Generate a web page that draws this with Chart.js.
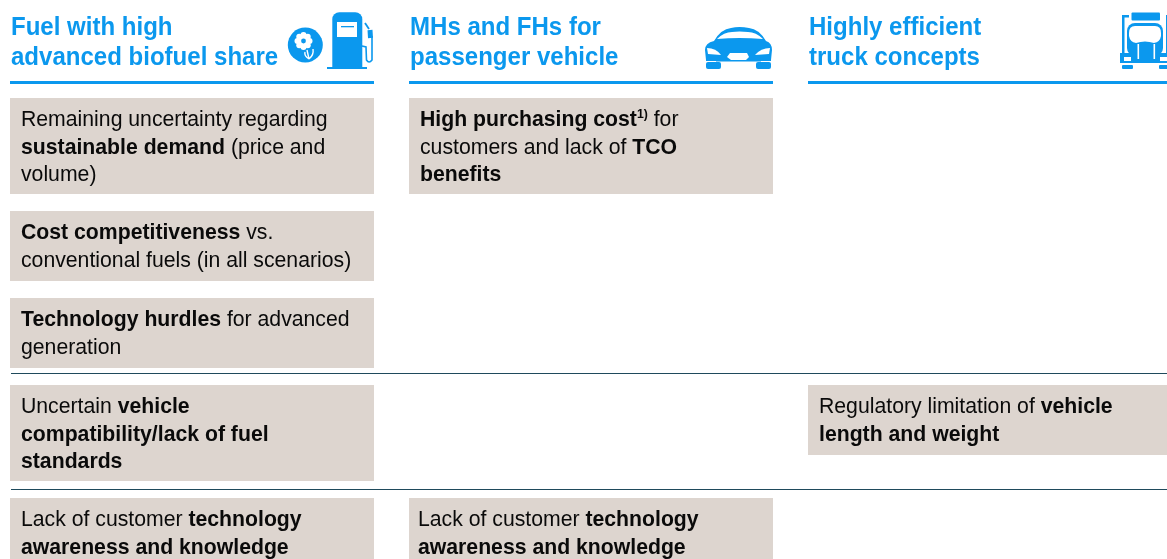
<!DOCTYPE html>
<html><head><meta charset="utf-8">
<style>html,body{margin:0;padding:0;background:#fff;overflow:hidden;width:1167px;height:559px}
canvas{position:absolute;left:-8px;top:0}</style>
<script src="https://cdn.jsdelivr.net/npm/chart.js@4"></script></head>
<body><canvas id="c" width="1198" height="559"></canvas>
<script>
const categories=[["Fuel with high","advanced biofuel share"],["MHs and FHs for","passenger vehicle"],["Highly efficient","truck concepts"]];
const headerRule=[[81,84],[81,84],[81,84]];
const row1=[[98,194],[98,194],null];
const row2=[[211,281],null,null];
const row3=[[298,368],null,null];
const row4=[[385,481],null,[385,455]];
const row5=[[498,559],[498,559],null];
const separators=[373,489];
const R="r",B="b",S="s";
const awareness=[[[R,"Lack of customer "],[B,"technology"]],[[B,"awareness and knowledge"]]];
const notes=[
 {col:0,top:98,lines:[[[R,"Remaining uncertainty regarding"]],[[B,"sustainable demand"],[R," (price and"]],[[R,"volume)"]]]},
 {col:0,top:211,lines:[[[B,"Cost competitiveness"],[R," vs."]],[[R,"conventional fuels (in all scenarios)"]]]},
 {col:0,top:298,lines:[[[B,"Technology hurdles"],[R," for advanced"]],[[R,"generation"]]]},
 {col:0,top:385,lines:[[[R,"Uncertain "],[B,"vehicle"]],[[B,"compatibility/lack of fuel"]],[[B,"standards"]]]},
 {col:0,top:498,lines:awareness},
 {col:1,top:98,lines:[[[B,"High purchasing cost"],[S,"1)"],[R," for"]],[[R,"customers and lack of "],[B,"TCO"]],[[B,"benefits"]]]},
 {col:1,top:498,dx:-2,lines:awareness},
 {col:2,top:385,lines:[[[R,"Regulatory limitation of "],[B,"vehicle"]],[[B,"length and weight"]]]}
];
const BLUE="#0b98ee",BOX="#ddd5cf",INK="#0a0a0a",RULE="#1f4a5c";
const FONT='"Liberation Sans"';
const SX=0.943, TX=0.907;

function rr(c,x,y,w,h,r){c.beginPath();c.roundRect(x,y,w,h,r);c.fill();}
function pump(c){
 c.fillStyle=BLUE;
 rr(c,332.3,12.3,30,56,[7,7,0,0]);
 c.fillRect(327,67,40,2);
 c.fillStyle="#fff";c.fillRect(337,22,20,15);
 c.fillStyle=BLUE;c.fillRect(341,26,13,1.3);
 c.strokeStyle=BLUE;c.lineWidth=1.6;c.beginPath();
 c.moveTo(362,46);c.lineTo(366,47);c.lineTo(366.5,60);c.quadraticCurveTo(369,64,372,60);c.lineTo(372,36);c.stroke();
 c.lineWidth=1.8;c.beginPath();c.moveTo(365,23);c.lineTo(369,29);c.stroke();
 c.lineWidth=5;c.beginPath();c.moveTo(370,30);c.lineTo(370.5,38);c.stroke();
 c.beginPath();c.arc(305.3,45,17.5,0,Math.PI*2);c.fill();
 c.fillStyle="#fff";
 for(let i=0;i<8;i++){const a=i*Math.PI/4;c.beginPath();c.arc(303.5+Math.cos(a)*6,41+Math.sin(a)*6,3,0,Math.PI*2);c.fill();}
 c.beginPath();c.arc(303.5,41,5,0,Math.PI*2);c.fill();
 c.fillStyle=BLUE;c.beginPath();c.arc(303.5,41,2.4,0,Math.PI*2);c.fill();
 c.strokeStyle="#fff";c.lineWidth=1.4;c.beginPath();c.moveTo(307,50);c.lineTo(309,59);c.moveTo(309,59);c.quadraticCurveTo(304,56,305,52);c.moveTo(309,59);c.quadraticCurveTo(314,55,313,49);c.stroke();
}
function car(c){
 c.fillStyle=BLUE;
 c.beginPath();c.moveTo(705,50);c.quadraticCurveTo(705,43,714,41);c.quadraticCurveTo(721,29,731,28);
 c.quadraticCurveTo(739,26,749,28);c.quadraticCurveTo(759,29,766,41);c.quadraticCurveTo(772,43,772,50);
 c.lineTo(771,60);c.lineTo(706,60);c.closePath();c.fill();
 rr(c,706,62,15,7,2);rr(c,756,62,15,7,2);
 c.fillRect(706,58,10,3);c.fillRect(761,58,10,3);
 c.fillRect(716,60,45,1.5);
 c.fillStyle="#fff";
 c.beginPath();c.moveTo(717,39);c.quadraticCurveTo(724,32,732,32);c.quadraticCurveTo(739,31,748,32);c.quadraticCurveTo(756,32,763,39);c.quadraticCurveTo(739,37,717,39);c.fill();
 c.beginPath();c.moveTo(707,48);c.quadraticCurveTo(716,48,721,55);c.lineTo(708,54);c.closePath();c.fill();
 c.beginPath();c.moveTo(770,48);c.quadraticCurveTo(761,48,755,55);c.lineTo(769,54);c.closePath();c.fill();
 c.beginPath();c.moveTo(730,53);c.lineTo(747,53);c.lineTo(749,57);c.lineTo(746,60);c.lineTo(731,60);c.lineTo(727,57);c.closePath();c.fill();
}
function truck(c){
 c.fillStyle=BLUE;
 rr(c,1131.5,12.5,28.5,8,1);
 c.fillRect(1122,15,2.5,40);c.fillRect(1122,15,7,2.5);c.fillRect(1166,15,2.5,40);
 rr(c,1127,23,36,33,8);
 c.fillRect(1120,53,50,10);
 rr(c,1122,65,11,4,1);rr(c,1159,65,11,4,1);
 c.fillStyle="#fff";
 c.beginPath();c.moveTo(1129,33);c.quadraticCurveTo(1129,26,1135,26);c.lineTo(1155,26);c.quadraticCurveTo(1161,26,1161,33);c.lineTo(1161,36);c.quadraticCurveTo(1160,42,1154,43);c.quadraticCurveTo(1145,40,1136,43);c.quadraticCurveTo(1130,42,1129,36);c.closePath();c.fill();
 c.fillRect(1137.5,44,1.6,15);c.fillRect(1153.5,44,1.6,15);
 c.fillRect(1124,57,7,4);c.fillRect(1160,57,7,4);
}
const textPlugin={id:"notes",afterDatasetsDraw(chart){
 const c=chart.ctx,xs=chart.scales.x,ys=chart.scales.y;
 c.save();
 c.translate(8,0); /* page coordinates: canvas sits 8px left of the page */
 c.fillStyle=RULE;
 separators.forEach(v=>c.fillRect(11,Math.round(ys.getPixelForValue(v)),1156,1));
 pump(c);car(c);truck(c);
 c.textBaseline="alphabetic";
 categories.forEach((ls,i)=>{
  const left=xs.getPixelForValue(i)-8-182+1;
  ls.forEach((t,j)=>{
   c.save();c.translate(left,34.5+j*30.5);c.scale(TX,1);
   c.font='bold 26.5px '+FONT;c.fillStyle=BLUE;c.fillText(t,0,0);c.restore();
  });
 });
 notes.forEach(n=>{
  const left=xs.getPixelForValue(n.col)-8-182+11+(n.dx||0);
  n.lines.forEach((line,j)=>{
   const y=ys.getPixelForValue(n.top)+28+j*27.7;
   if(y>575)return;
   c.save();c.translate(left,y);c.scale(SX,1);c.fillStyle=INK;
   let x=0;
   line.forEach(([k,t])=>{
    c.font=(k===R?'':'bold ')+(k===S?'13px ':'22.5px ')+FONT;
    c.fillText(t,x,k===S?-8:0);
    x+=c.measureText(t).width;
   });
   c.restore();
  });
 });
 c.restore();
}};
const mk=(d,color)=>({data:d,backgroundColor:color,borderWidth:0,grouped:false,barPercentage:364/399,categoryPercentage:1});
new Chart(document.getElementById("c"),{
 type:"bar",
 data:{labels:categories.map(l=>l.join(" ")),datasets:[mk(headerRule,BLUE),mk(row1,BOX),mk(row2,BOX),mk(row3,BOX),mk(row4,BOX),mk(row5,BOX)]},
 options:{responsive:false,animation:false,layout:{padding:{left:0.5,right:0.5,top:0,bottom:0}},
  plugins:{legend:{display:false},tooltip:{enabled:false}},
  datasets:{bar:{grouped:false}},
  scales:{x:{display:false},y:{display:false,reverse:true,min:0,max:559}}},
 plugins:[textPlugin]
});
</script></body></html>
